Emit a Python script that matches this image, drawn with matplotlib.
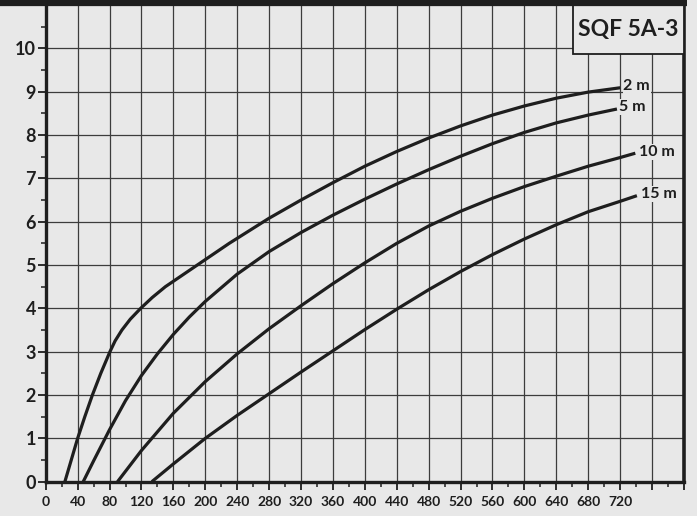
import numpy as np
import matplotlib
matplotlib.use("Agg")
import matplotlib.pyplot as plt
from matplotlib.patches import Rectangle
from matplotlib.lines import Line2D

plt.rcParams['font.family'] = ['Lato', 'DejaVu Sans']

# data (flow vs head)
q_2m = [24, 32, 40, 49, 58.5, 69, 80.5, 87, 95.5, 106, 119, 133.5, 150, 170, 190, 230,
        280, 320, 360, 400, 440, 480, 520, 560, 600, 640, 680, 720]
h_2m = [0, 0.5, 1.0, 1.5, 2.0, 2.5, 3.0, 3.25, 3.5, 3.75, 4.0, 4.25, 4.5, 4.75, 5.0, 5.5,
        6.08, 6.5, 6.9, 7.28, 7.62, 7.93, 8.21, 8.46, 8.67, 8.85, 8.99, 9.09]

q_5m = [47, 60, 80, 100, 120, 140, 160, 180, 200, 240, 280, 320, 360, 400, 440,
        480, 520, 560, 600, 640, 680, 716]
h_5m = [0, 0.48, 1.2, 1.87, 2.45, 2.95, 3.4, 3.8, 4.16, 4.79, 5.31, 5.75, 6.15, 6.52,
        6.87, 7.2, 7.51, 7.8, 8.06, 8.28, 8.46, 8.6]

q_10m = [90, 120, 160, 200, 240, 280, 320, 360, 400, 440, 480, 520, 560, 600, 640, 680,
         720, 739]
h_10m = [0, 0.72, 1.58, 2.31, 2.95, 3.53, 4.06, 4.57, 5.05, 5.5, 5.9, 6.24, 6.54, 6.81,
         7.05, 7.28, 7.48, 7.58]

q_15m = [133, 160, 200, 240, 280, 320, 360, 400, 440, 480, 520, 560, 600, 640, 680,
         720, 741]
h_15m = [0, 0.41, 1.0, 1.53, 2.03, 2.53, 3.02, 3.51, 3.98, 4.43, 4.85, 5.24, 5.6, 5.93,
         6.23, 6.47, 6.6]

curves = [(q_2m, h_2m, "2 m"), (q_5m, h_5m, "5 m"), (q_10m, h_10m, "10 m"), (q_15m, h_15m, "15 m")]
label_pos = [(724, 9.13), (719, 8.64), (744, 7.61), (746, 6.64)]

x_ticks = list(range(0, 801, 40))
x_labels = [str(v) if v <= 720 else "" for v in x_ticks]
y_ticks = list(range(0, 11))

bg = "#e8e8e8"
ink = "#1e1e1e"

fig = plt.figure(figsize=(6.97, 5.16), dpi=100, facecolor=bg)
ax = fig.add_axes([0.0656, 0.0665, 0.9157, 0.9238], facecolor=bg)

ax.set_xlim(0, 800)
ax.set_ylim(0, 11)

# grid
for v in x_ticks[1:-1]:
    ax.axvline(v, color="#3c3c3c", lw=0.9, zorder=1)
for v in y_ticks[1:]:
    ax.axhline(v, color="#3c3c3c", lw=0.9, zorder=1)

for q, h, name in curves:
    ax.plot(q, h, color=ink, lw=2.3, solid_capstyle="butt", solid_joinstyle="round", zorder=3)

for (q, h, name), (lx, ly) in zip(curves, label_pos):
    ax.text(lx, ly, name, fontsize=11.5, fontweight="bold", color=ink, ha="left", va="center",
            zorder=4, bbox=dict(boxstyle="square,pad=0.05", fc=bg, ec="none"))

# title box
ax.add_patch(Rectangle((661, 9.88), 139, 1.12, fc=bg, ec=ink, lw=1.3, zorder=5))
ax.text(730.5, 10.44, "SQF 5A-3", fontsize=16.5, fontweight="bold", color=ink,
        ha="center", va="center", zorder=6)

# ticks
ax.set_xticks(x_ticks)
ax.set_xticklabels(x_labels)
ax.set_xticks(list(range(20, 800, 40)), minor=True)
ax.set_yticks(y_ticks)
ax.set_yticks([v + 0.5 for v in range(0, 11)], minor=True)
ax.tick_params(axis="both", which="major", length=6, width=1.3, color=ink, labelcolor=ink)
ax.tick_params(axis="both", which="minor", length=3.5, width=1.1, color=ink)
ax.tick_params(axis="x", labelsize=10, pad=4)
ax.tick_params(axis="y", labelsize=13, pad=1)
for lab in ax.get_xticklabels() + ax.get_yticklabels():
    lab.set_fontweight("bold")

for side in ["left", "bottom"]:
    ax.spines[side].set_linewidth(2.4)
    ax.spines[side].set_color(ink)
ax.spines["right"].set_linewidth(2.6)
ax.spines["right"].set_color(ink)
ax.spines["top"].set_visible(False)

# heavy top rule running across the figure
fig.add_artist(Line2D([0, 0.985], [0.9935, 0.9935], transform=fig.transFigure,
                      color=ink, lw=4.5, solid_capstyle="butt"))

fig.savefig("out.png", dpi=100, facecolor=bg)
